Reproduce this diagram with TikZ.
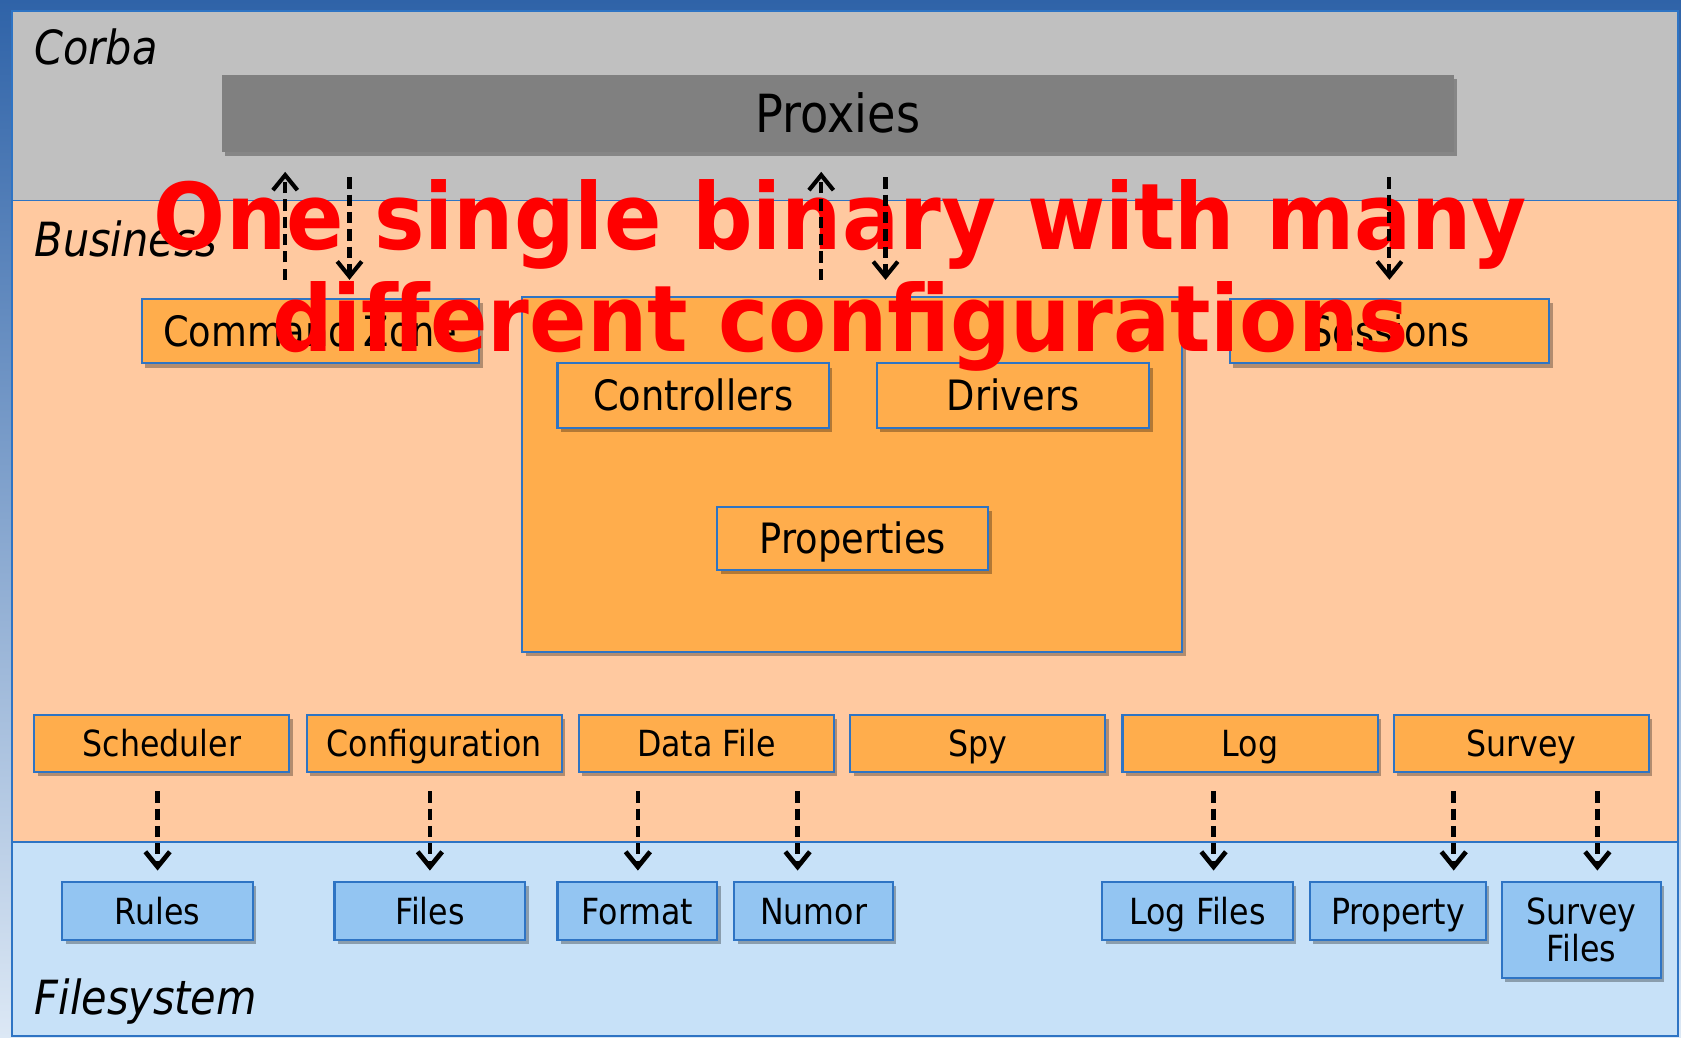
\documentclass[tikz,border=0pt]{standalone}
\usepackage{fontspec}
\setmainfont{DejaVu Sans}[FakeStretch=0.88]
\newfontfamily\slogfont{DejaVu Sans Bold}[FakeStretch=0.92]
\usetikzlibrary{arrows.meta,shadows}
\definecolor{bord}{HTML}{2E74C4}
\definecolor{corbaC}{HTML}{C0C0C0}
\definecolor{busC}{HTML}{FFC9A0}
\definecolor{fsC}{HTML}{C7E1F8}
\definecolor{orng}{HTML}{FFAD4C}
\definecolor{lblue}{HTML}{93C5F2}
\definecolor{proxC}{HTML}{808080}
\definecolor{skyA}{HTML}{2F63A8}
\definecolor{skyB}{HTML}{DCE8F5}
\begin{document}
\begin{tikzpicture}[x=0.02cm,y=-0.02cm,
  region/.style={draw=bord,line width=1pt,inner sep=0pt,outer sep=0pt,minimum width=31.08cm},
  shad/.style={drop shadow={shadow xshift=1.8pt,shadow yshift=-2.2pt,opacity=0.3,fill=black}},
  obox/.style={draw=bord,fill=orng,line width=1.1pt,inner sep=0pt,shad,
    minimum height=1.2cm,
    font=\fontsize{22.2}{26}\selectfont,text height=16.2pt,text depth=0pt},
  rowbox/.style={obox,minimum width=4.76cm,minimum height=1.06cm,
    font=\fontsize{19.1}{22}\selectfont,text height=13.9pt},
  fsbox/.style={rowbox,fill=lblue,minimum height=1.08cm},
  lbl/.style={anchor=base west,inner sep=0pt,font=\fontsize{25}{30}\selectfont\itshape},
  darr/.style={line width=2.2pt,dash pattern=on 6pt off 3.2pt,-{Straight Barb[length=8pt,width=13pt]}},
]
\useasboundingbox (0,0) rectangle (1568,968);
\shade[top color=skyA,bottom color=skyB] (0,0) rectangle (1568,968);

% regions
\node[region,fill=corbaC,minimum height=3.54cm] (corba) at (788,98.5) {};
\node[region,fill=busC,minimum height=11.96cm] (business) at (788,486) {};
\node[region,fill=fsC,minimum height=3.62cm] (fs) at (788,875.5) {};
\node[lbl] (lcorba) at (32,60) {Corba};
\node[lbl] (lbus) at (32,239) {Business};
\node[lbl] (lfs) at (32,946) {Filesystem};

% corba
\node[fill=proxC,inner sep=0pt,shad,minimum width=22.98cm,minimum height=1.44cm,
  font=\fontsize{27.9}{32}\selectfont,text height=20.3pt,text depth=0pt] (proxies) at (781.5,106) {Proxies};

% business
\node[obox,minimum width=6.3cm] (cz) at (289.5,309) {Command Zone};
\node[obox,minimum width=12.32cm,minimum height=6.62cm] (cont) at (795,442.5) {};
\node[obox,minimum width=5.06cm] (ctrl) at (646.5,369) {Controllers};
\node[obox,minimum width=5.08cm] (drv) at (945,369) {Drivers};
\node[obox,minimum width=5.06cm,minimum height=1.18cm] (props) at (795.5,502.5) {Properties};
\node[obox,minimum width=5.96cm] (sess) at (1296,309) {Sessions};

\node[rowbox] (sched) at (151,693.5) {Scheduler};
\node[rowbox] (conf) at (405,693.5) {Configuration};
\node[rowbox] (dfile) at (659,693.5) {Data File};
\node[rowbox] (spy) at (912,693.5) {Spy};
\node[rowbox] (log) at (1166,693.5) {Log};
\node[rowbox] (survey) at (1419,693.5) {Survey};

% filesystem
\node[fsbox,minimum width=3.56cm] (rules) at (147,850) {Rules};
\node[fsbox,minimum width=3.56cm] (files) at (401,850) {Files};
\node[fsbox,minimum width=2.98cm] (fmt) at (594.5,850) {Format};
\node[fsbox,minimum width=2.96cm] (numor) at (759,850) {Numor};
\node[fsbox,minimum width=3.56cm] (logf) at (1117,850) {Log Files};
\node[fsbox,minimum width=3.28cm] (prop) at (1304,850) {Property};
\node[fsbox,minimum width=2.96cm,minimum height=1.78cm,text width=2.9cm,align=center,
  font=\fontsize{19.1}{19.9}\selectfont,text depth=19.9pt] (survf) at (1475,867.5) {Survey\\Files};

% overlay text
\node[anchor=base,inner sep=0pt,text width=30cm,align=center,text=red,
  font=\fontsize{48.9}{54}\slogfont] (slogan) at (784,233)
  {One single binary with many\\different configurations};

% arrows top
\coordinate (a1) at (266,0);
\coordinate (a2) at (326,0);
\coordinate (a3) at (766,0);
\coordinate (a4) at (826,0);
\coordinate (a5) at (1296,0);
\draw[darr,shorten <=9.7pt,shorten >=10.2pt] (cz.north -| a1) -- (proxies.south -| a1);
\draw[darr,shorten <=13.1pt,shorten >=9.7pt] (proxies.south -| a2) -- (cz.north -| a2);
\draw[darr,shorten <=8.5pt,shorten >=10.2pt] (cont.north -| a3) -- (proxies.south -| a3);
\draw[darr,shorten <=13.1pt,shorten >=8.5pt] (proxies.south -| a4) -- (cont.north -| a4);
\draw[darr,shorten <=13.1pt,shorten >=9.7pt] (proxies.south -| a5) -- (sess.north -| a5);

% arrows bottom
\coordinate (b1) at (147,0);
\coordinate (b2) at (401,0);
\coordinate (b3) at (595,0);
\coordinate (b4) at (744,0);
\coordinate (b5) at (1132,0);
\coordinate (b6) at (1356,0);
\coordinate (b7) at (1490,0);
\tikzset{barr/.style={darr,line width=2.5pt,shorten <=9.7pt,shorten >=5.7pt,
  -{Straight Barb[length=8pt,width=13pt]}}}
\draw[barr] (sched.south -| b1) -- (rules.north -| b1);
\draw[barr] (conf.south -| b2) -- (files.north -| b2);
\draw[barr] (dfile.south -| b3) -- (fmt.north -| b3);
\draw[barr] (dfile.south -| b4) -- (numor.north -| b4);
\draw[barr] (log.south -| b5) -- (logf.north -| b5);
\draw[barr] (survey.south -| b6) -- (prop.north -| b6);
\draw[barr] (survey.south -| b7) -- (survf.north -| b7);
\end{tikzpicture}
\end{document}
